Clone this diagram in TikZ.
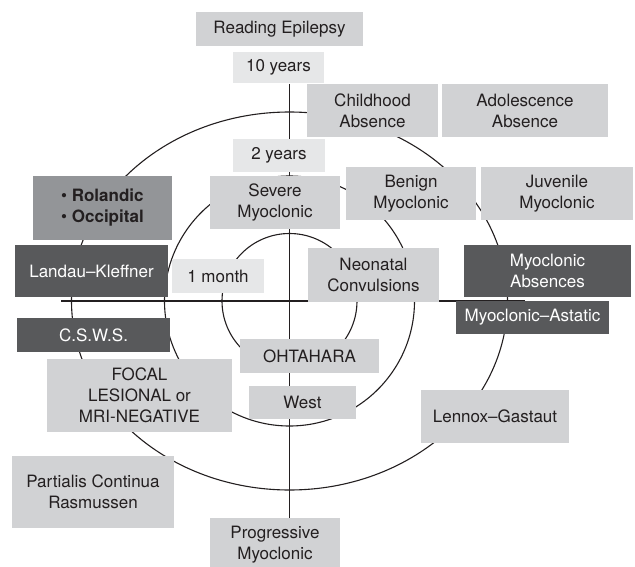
\documentclass[tikz,border=0pt]{standalone}
\usepackage{fontspec}
\setmainfont{TeX Gyre Heros}
\usetikzlibrary{positioning}
\definecolor{boxfill}{HTML}{D1D2D4}
\definecolor{agefill}{HTML}{E6E7E8}
\definecolor{midfill}{HTML}{939598}
\definecolor{darkfill}{HTML}{58595B}
\definecolor{inktext}{HTML}{231F20}

\begin{document}
\begin{tikzpicture}[
    x=1pt, y=-1pt,
    box/.style={fill=boxfill, text=inktext, align=center, inner sep=0pt,
                font=\fontsize{17}{21}\selectfont},
    agebox/.style={box, fill=agefill},
    darkbox/.style={box, fill=darkfill, text=white},
    axis/.style={line width=1.3pt, draw=inktext},
    ring/.style={line width=1.1pt, draw=inktext}
  ]
  \useasboundingbox (0,0) rectangle (635,567);
  \coordinate (origin) at (289.5,301);
  \coordinate (leftend) at (61,301);
  \coordinate (rightend) at (525,301);
  \coordinate (topend) at (289.5,84);
  \coordinate (bottomend) at (289.5,519);

  % age rings and axes
  \draw[ring] (origin) ellipse [x radius=218, y radius=189];
  \draw[ring] (origin) circle [radius=125];
  \draw[ring] (origin) circle [radius=67.5];
  \draw[axis] (leftend) -- (rightend);
  \draw[axis] (topend) -- (bottomend);

  % syndromes
  \node[box, minimum width=167, minimum height=34] (reading) at (279.5,29) {Reading Epilepsy};
  \node[agebox, minimum width=91, minimum height=31] (tenyrs) at (278.5,67.5) {10 years};
  \node[box, minimum width=131, minimum height=53] (childabs) at (372.5,110.5) {Childhood\\Absence};
  \node[box, minimum width=166, minimum height=53] (adolabs) at (525,110.5) {Adolescence\\Absence};
  \node[agebox, minimum width=92, minimum height=33] (twoyrs) at (279,155.5) {2 years};
  \node[box, minimum width=130, minimum height=53] (severe) at (275,202.5) {Severe\\Myoclonic};
  \node[box, minimum width=130, minimum height=53] (benign) at (411,193.5) {Benign\\Myoclonic};
  \node[box, minimum width=152, minimum height=53] (juvenile) at (557,193.5) {Juvenile\\Myoclonic};
  \node[box, fill=midfill, align=left, minimum width=139, minimum height=64] (rolandic) at (102.5,208)
    {\textbullet\ \textbf{Rolandic}\\\textbullet\ \textbf{Occipital}};
  \node[darkbox, minimum width=153, minimum height=52] (landau) at (91.5,271) {Landau--Kleffner};
  \node[agebox, minimum width=92, minimum height=34] (onemonth) at (218,276) {1 month};
  \node[box, minimum width=131, minimum height=54] (neonatal) at (373.5,275) {Neonatal\\Convulsions};
  \node[darkbox, minimum width=167, minimum height=52] (myoabs) at (547.5,271) {Myoclonic\\Absences};
  \node[darkbox, minimum width=153, minimum height=33] (astatic) at (532.5,317.5) {Myoclonic--Astatic};
  \node[darkbox, minimum width=153, minimum height=34] (csws) at (93.5,335) {C.S.W.S.};
  \node[box, minimum width=139, minimum height=34] (ohtahara) at (309.5,356) {OHTAHARA};
  \node[box, minimum width=107, minimum height=33] (west) at (302.5,402.5) {West};
  \node[box, minimum width=185, minimum height=73] (focal) at (139.5,395.5) {FOCAL\\LESIONAL or\\MRI-NEGATIVE};
  \node[box, minimum width=148, minimum height=53] (lennox) at (495,416.5) {Lennox--Gastaut};
  \node[box, minimum width=162, minimum height=72] (partialis) at (93,492) {Partialis Continua\\Rasmussen};
  \node[box, minimum width=130, minimum height=54] (progressive) at (275,545) {Progressive\\Myoclonic};
\end{tikzpicture}
\end{document}
